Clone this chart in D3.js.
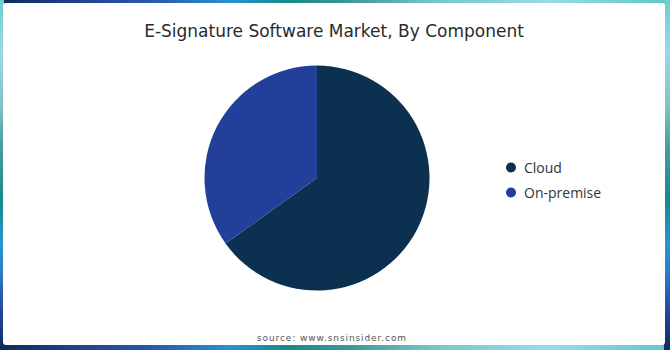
<!DOCTYPE html>
<html>
<head>
<meta charset="utf-8">
<script src="https://cdn.jsdelivr.net/npm/d3@7"></script>
<style>
  body { margin: 0; background: #fff; }
  svg { display: block; }
</style>
</head>
<body>
<svg width="670" height="350"></svg>
<script>
const categories = ['Cloud', 'On-premise'];
const shares = [65.1, 34.9];
const sliceColors = ['#0b3050', '#22409a'];

const chartTitle = 'E-Signature Software Market, By Component';
const sourceText = 'source: www.snsinsider.com';

var svg = d3.select('svg');
var defs = svg.append('defs');

// frame gradients: dark on the left / bottom, light cyan to the right / top
var hStops = [
  [0, '#0c2d5a'], [0.12, '#22428f'], [0.22, '#2a55aa'], [0.34, '#2a92d0'],
  [0.43, '#188a8c'], [0.52, '#3c969a'], [0.65, '#78c6cb'], [0.82, '#98dbe8'], [1, '#5ec7c7']
];
var vStops = [
  [0, '#0c2d5a'], [0.1, '#25409a'], [0.22, '#2a7cc8'], [0.3, '#2a95d0'],
  [0.43, '#17898a'], [0.58, '#4c9aa0'], [0.7, '#7fc4c8'], [0.85, '#9ad8e6'], [1, '#6ccfcf']
];

function addGradient(id, stops, x2, y1, y2) {
  var g = defs.append('linearGradient')
    .attr('id', id)
    .attr('x1', 0).attr('y1', y1)
    .attr('x2', x2).attr('y2', y2);
  g.selectAll('stop')
    .data(stops)
    .enter()
    .append('stop')
    .attr('offset', d => d[0])
    .attr('stop-color', d => d[1]);
}
addGradient('hgrad', hStops, 1, 0, 0);
addGradient('vgrad', vStops, 0, 1, 0);

svg.append('rect').attr('x', 0).attr('y', 0).attr('width', 670).attr('height', 350).attr('fill', 'url(#hgrad)');
svg.append('rect').attr('x', 0).attr('y', 0).attr('width', 4).attr('height', 350).attr('fill', 'url(#vgrad)');
svg.append('rect').attr('x', 664).attr('y', 0).attr('width', 6).attr('height', 350).attr('fill', 'url(#vgrad)');

svg.append('rect')
  .attr('x', 3).attr('y', 3)
  .attr('width', 662).attr('height', 342)
  .attr('rx', 3)
  .attr('fill', '#fff');

svg.append('text')
  .attr('x', 334)
  .attr('y', 37)
  .attr('text-anchor', 'middle')
  .attr('font-family', '"DejaVu Sans", sans-serif')
  .attr('font-size', 17)
  .attr('fill', '#2a2a2a')
  .text(chartTitle);

// pie
var cx = 317, cy = 178, radius = 112.5;

var pie = d3.pie().sort(null).value(d => d.v);
var arc = d3.arc().innerRadius(0).outerRadius(radius);
var pieData = pie(categories.map((c, i) => ({ name: c, v: shares[i] })));

var color = d3.scaleOrdinal().domain(categories).range(sliceColors);

svg.append('g')
  .attr('transform', 'translate(' + cx + ',' + cy + ')')
  .selectAll('path')
  .data(pieData)
  .enter()
  .append('path')
  .attr('d', arc)
  .attr('fill', d => color(d.data.name));

// legend
var legendY = d3.scalePoint().domain(categories).range([167.5, 192.5]);

var legend = svg.append('g')
  .selectAll('g')
  .data(categories)
  .enter()
  .append('g')
  .attr('transform', d => 'translate(511,' + legendY(d) + ')');

legend.append('circle')
  .attr('r', 5)
  .attr('fill', d => color(d));

legend.append('text')
  .attr('x', 13)
  .attr('y', 5)
  .attr('font-family', '"Open Sans", sans-serif')
  .attr('font-size', 14)
  .attr('fill', '#333')
  .text(d => d);

svg.append('text')
  .attr('x', 332)
  .attr('y', 341)
  .attr('text-anchor', 'middle')
  .attr('font-family', '"DejaVu Sans", sans-serif')
  .attr('font-size', 9)
  .attr('letter-spacing', 0.9)
  .attr('fill', '#555')
  .text(sourceText);
</script>
</body>
</html>
